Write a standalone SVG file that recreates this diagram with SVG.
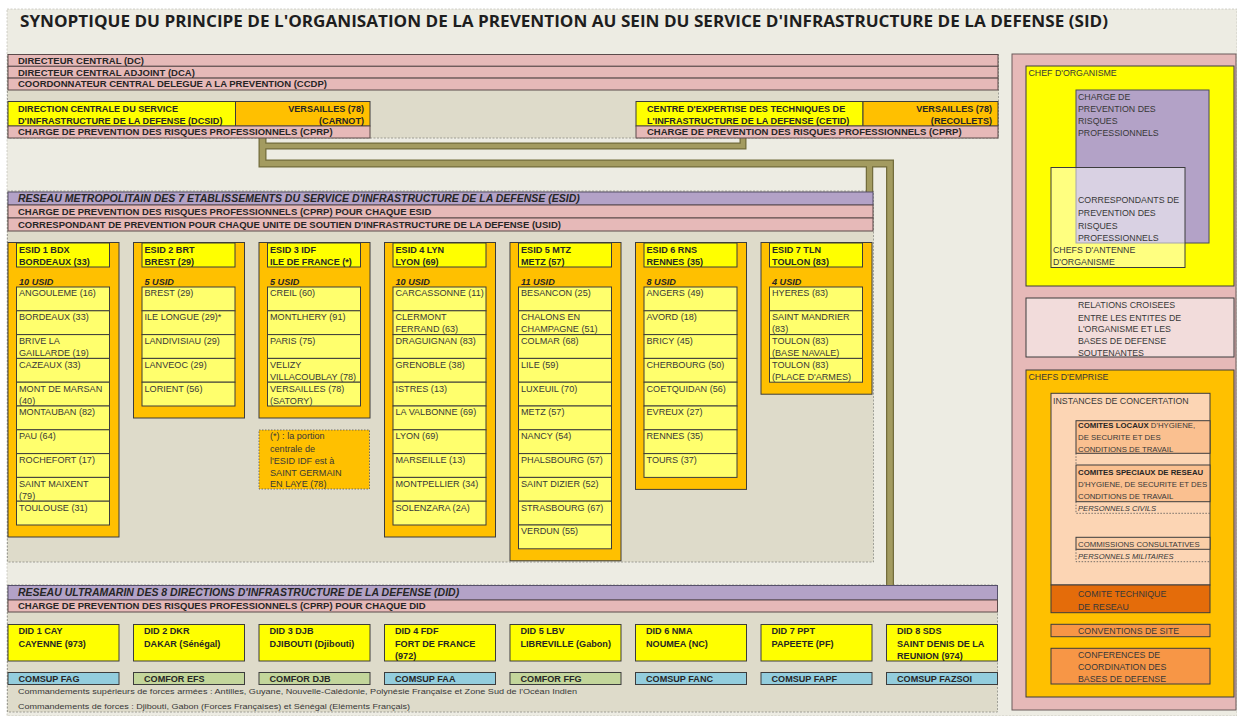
<svg xmlns="http://www.w3.org/2000/svg" width="1237" height="716" viewBox="0 0 1237 716">
<defs>
<style>
text{font-family:'Liberation Sans',Arial,sans-serif;fill:#383838;font-size:9.1px}
.b{font-weight:bold;fill:#262626}
.bi{font-weight:bold;font-style:italic;fill:#262626}
.h{font-size:10.5px}
.d{font-size:9.5px}
.s{font-size:7.8px}
.it{font-style:italic;font-size:7.6px}
.r{font-size:8.8px}
.fn{font-size:7.8px}
.end{text-anchor:end}
.ttl{font-family:'Open Sans','Liberation Sans',sans-serif;font-size:16px;font-weight:bold;fill:#1e1e1e}
.cont{fill:#dedbca;stroke:#8e8e86;stroke-width:0.8;stroke-dasharray:2 1.5}
.pk{fill:#e6b9b8;stroke:#5b4b4b;stroke-width:1}
.pu{fill:#b3a2c7;stroke:#56506a;stroke-width:1}
.y{fill:#ffff00;stroke:#3c3c3c;stroke-width:1}
.o{fill:#ffc000;stroke:#3c3c3c;stroke-width:1}
.rw{fill:#ffff6d;stroke:#3c3c3c;stroke-width:1}
.bl{fill:#93cddd;stroke:#3c3c3c;stroke-width:1}
.gr{fill:#c3d69b;stroke:#3c3c3c;stroke-width:1}
.bx{stroke:#3c3c3c;stroke-width:1}
.dot{fill:none;stroke:#555;stroke-width:0.8;stroke-dasharray:1.5 1.5}
.cd{fill:none;stroke:#736c3c}
.cl{fill:none;stroke:#a39b60}
.olb{fill:#9a9258;stroke:#6f6a3c;stroke-width:1}
</style>
</defs>

<rect x="0" y="0" width="1237" height="716" fill="#ffffff"/>
<rect x="7" y="9" width="1230" height="707" fill="#edece3" stroke="#b5b5ad" stroke-width="0.6" stroke-dasharray="2 1.5"/>

<text class="ttl" x="20" y="27" textLength="1088" lengthAdjust="spacingAndGlyphs">SYNOPTIQUE DU PRINCIPE DE L'ORGANISATION DE LA PREVENTION AU SEIN DU SERVICE D'INFRASTRUCTURE DE LA DEFENSE (SID)</text>

<!-- containers -->
<rect class="cont" x="7.5" y="54.5" width="991" height="83.5"/>
<rect class="cont" x="7.5" y="191" width="866" height="371"/>
<rect class="cont" x="7.5" y="585" width="990" height="127"/>

<!-- connectors -->
<g id="connectors">
<path class="cd" stroke-width="8" d="M262.5,138 V163.5 H890 V585"/>
<path class="cd" stroke-width="7" d="M262.5,146 H743 V138"/>
<path class="cd" stroke-width="7.5" d="M869.5,163.5 V192"/>
<path class="cl" stroke-width="5.5" d="M262.5,138 V163.5 H890 V585"/>
<path class="cl" stroke-width="4.5" d="M262.5,146 H743 V138"/>
<path class="cl" stroke-width="5" d="M869.5,163.5 V192"/>
<rect class="olb" x="1052" y="286" width="23" height="12"/>
<rect class="olb" x="1185.5" y="286" width="23.5" height="12"/>
<rect class="olb" x="1052" y="357" width="23" height="13"/>
<rect class="olb" x="1185.5" y="357" width="23.5" height="13"/>
</g>

<!-- direction -->
<g id="direction">
<rect class="pk" x="8" y="54.5" width="990" height="11.8"/>
<rect class="pk" x="8" y="66.3" width="990" height="11.8"/>
<rect class="pk" x="8" y="78.1" width="990" height="11.9"/>
<text class="b d" x="18" y="63.8">DIRECTEUR CENTRAL (DC)</text>
<text class="b d" x="18" y="75.6">DIRECTEUR CENTRAL ADJOINT (DCA)</text>
<text class="b d" x="18" y="87.4">COORDONNATEUR CENTRAL DELEGUE A LA PREVENTION (CCDP)</text>
</g>

<g id="dcsid">
<rect class="y" x="8" y="101.5" width="227.5" height="24.5"/>
<rect class="o" x="235.5" y="101.5" width="134.5" height="24.5"/>
<rect class="pk" x="8" y="126" width="362" height="12"/>
<text class="b" x="18" y="111.5">DIRECTION CENTRALE DU SERVICE</text>
<text class="b" x="18" y="123.5">D'INFRASTRUCTURE DE LA DEFENSE (DCSID)</text>
<text class="b end" x="364" y="111.5">VERSAILLES (78)</text>
<text class="b end" x="364" y="123.5">(CARNOT)</text>
<text class="b d" x="18" y="135.4">CHARGE DE PREVENTION DES RISQUES PROFESSIONNELS (CPRP)</text>
</g>

<g id="cetid">
<rect class="y" x="636" y="101.5" width="227" height="24.5"/>
<rect class="o" x="863" y="101.5" width="135" height="24.5"/>
<rect class="pk" x="636" y="126" width="362" height="12"/>
<text class="b" x="647" y="111.5">CENTRE D'EXPERTISE DES TECHNIQUES DE</text>
<text class="b" x="647" y="123.5">L'INFRASTRUCTURE DE LA DEFENSE (CETID)</text>
<text class="b end" x="992" y="111.5">VERSAILLES (78)</text>
<text class="b end" x="992" y="123.5">(RECOLLETS)</text>
<text class="b d" x="647" y="135.4">CHARGE DE PREVENTION DES RISQUES PROFESSIONNELS (CPRP)</text>
</g>

<!-- ESID network header -->
<g id="reseau-metropolitain">
<rect class="pu" x="8" y="192" width="865" height="13"/>
<rect class="pk" x="8" y="205" width="865" height="13"/>
<rect class="pk" x="8" y="218" width="865" height="13"/>
<text class="bi h" x="18" y="202.3">RESEAU METROPOLITAIN DES 7 ETABLISSEMENTS DU SERVICE D'INFRASTRUCTURE DE LA DEFENSE (ESID)</text>
<text class="b d" x="18" y="214.9">CHARGE DE PREVENTION DES RISQUES PROFESSIONNELS (CPRP) POUR CHAQUE ESID</text>
<text class="b d" x="18" y="227.9">CORRESPONDANT DE PREVENTION POUR CHAQUE UNITE DE SOUTIEN D'INFRASTRUCTURE DE LA DEFENSE (USID)</text>
</g>

<!-- ESID 1 -->
<g id="esid1">
<rect class="o" x="8" y="242.5" width="111" height="294.5"/>
<rect class="y" x="16.5" y="243" width="93" height="24"/>
<text class="b" x="19" y="252.5">ESID 1 BDX</text>
<text class="b" x="19" y="264.5">BORDEAUX (33)</text>
<text class="bi" x="19" y="284.5">10 USID</text>
<rect class="rw" x="16.5" y="287" width="93" height="23.8"/>
<rect class="rw" x="16.5" y="310.8" width="93" height="23.8"/>
<rect class="rw" x="16.5" y="334.6" width="93" height="23.8"/>
<rect class="rw" x="16.5" y="358.4" width="93" height="23.8"/>
<rect class="rw" x="16.5" y="382.2" width="93" height="23.8"/>
<rect class="rw" x="16.5" y="406" width="93" height="23.8"/>
<rect class="rw" x="16.5" y="429.8" width="93" height="23.8"/>
<rect class="rw" x="16.5" y="453.6" width="93" height="23.8"/>
<rect class="rw" x="16.5" y="477.4" width="93" height="23.8"/>
<rect class="rw" x="16.5" y="501.2" width="93" height="23.8"/>
<text x="19" y="296.3">ANGOULEME (16)</text>
<text x="19" y="320.1">BORDEAUX (33)</text>
<text x="19" y="343.9">BRIVE LA</text>
<text x="19" y="355.9">GAILLARDE (19)</text>
<text x="19" y="367.7">CAZEAUX (33)</text>
<text x="19" y="391.5">MONT DE MARSAN</text>
<text x="19" y="403.5">(40)</text>
<text x="19" y="415.3">MONTAUBAN (82)</text>
<text x="19" y="439.1">PAU (64)</text>
<text x="19" y="462.9">ROCHEFORT (17)</text>
<text x="19" y="486.7">SAINT MAIXENT</text>
<text x="19" y="498.7">(79)</text>
<text x="19" y="510.5">TOULOUSE (31)</text>
</g>

<!-- ESID 2 -->
<g id="esid2">
<rect class="o" x="133.5" y="242.5" width="111" height="175.5"/>
<rect class="y" x="142" y="243" width="93" height="24"/>
<text class="b" x="144.5" y="252.5">ESID 2 BRT</text>
<text class="b" x="144.5" y="264.5">BREST (29)</text>
<text class="bi" x="144.5" y="284.5">5 USID</text>
<rect class="rw" x="142" y="287" width="93" height="23.8"/>
<rect class="rw" x="142" y="310.8" width="93" height="23.8"/>
<rect class="rw" x="142" y="334.6" width="93" height="23.8"/>
<rect class="rw" x="142" y="358.4" width="93" height="23.8"/>
<rect class="rw" x="142" y="382.2" width="93" height="23.8"/>
<text x="144.5" y="296.3">BREST (29)</text>
<text x="144.5" y="320.1">ILE LONGUE (29)*</text>
<text x="144.5" y="343.9">LANDIVISIAU (29)</text>
<text x="144.5" y="367.7">LANVEOC (29)</text>
<text x="144.5" y="391.5">LORIENT (56)</text>
</g>

<!-- ESID 3 -->
<g id="esid3">
<rect class="o" x="259" y="242.5" width="111" height="175.5"/>
<rect class="y" x="267.5" y="243" width="93" height="24"/>
<text class="b" x="270" y="252.5">ESID 3 IDF</text>
<text class="b" x="270" y="264.5">ILE DE FRANCE (*)</text>
<text class="bi" x="270" y="284.5">5 USID</text>
<rect class="rw" x="267.5" y="287" width="93" height="23.8"/>
<rect class="rw" x="267.5" y="310.8" width="93" height="23.8"/>
<rect class="rw" x="267.5" y="334.6" width="93" height="23.8"/>
<rect class="rw" x="267.5" y="358.4" width="93" height="23.8"/>
<rect class="rw" x="267.5" y="382.2" width="93" height="23.8"/>
<text x="270" y="296.3">CREIL (60)</text>
<text x="270" y="320.1">MONTLHERY (91)</text>
<text x="270" y="343.9">PARIS (75)</text>
<text x="270" y="367.7">VELIZY</text>
<text x="270" y="379.7">VILLACOUBLAY (78)</text>
<text x="270" y="391.5">VERSAILLES (78)</text>
<text x="270" y="403.5">(SATORY)</text>
</g>

<g id="note-idf">
<rect x="259" y="430" width="110.5" height="59" fill="#ffc000" stroke="#555" stroke-width="0.8" stroke-dasharray="1.5 1.5"/>
<text x="270" y="439.3">(*) : la portion</text>
<text x="270" y="451.5">centrale de</text>
<text x="270" y="463.5">l'ESID IDF est à</text>
<text x="270" y="475.5">SAINT GERMAIN</text>
<text x="270" y="487.3">EN LAYE (78)</text>
</g>

<!-- ESID 4 -->
<g id="esid4">
<rect class="o" x="384.5" y="242.5" width="111" height="294.5"/>
<rect class="y" x="393" y="243" width="93" height="24"/>
<text class="b" x="395.5" y="252.5">ESID 4 LYN</text>
<text class="b" x="395.5" y="264.5">LYON (69)</text>
<text class="bi" x="395.5" y="284.5">10 USID</text>
<rect class="rw" x="393" y="287" width="93" height="23.8"/>
<rect class="rw" x="393" y="310.8" width="93" height="23.8"/>
<rect class="rw" x="393" y="334.6" width="93" height="23.8"/>
<rect class="rw" x="393" y="358.4" width="93" height="23.8"/>
<rect class="rw" x="393" y="382.2" width="93" height="23.8"/>
<rect class="rw" x="393" y="406" width="93" height="23.8"/>
<rect class="rw" x="393" y="429.8" width="93" height="23.8"/>
<rect class="rw" x="393" y="453.6" width="93" height="23.8"/>
<rect class="rw" x="393" y="477.4" width="93" height="23.8"/>
<rect class="rw" x="393" y="501.2" width="93" height="23.8"/>
<text x="395.5" y="296.3">CARCASSONNE (11)</text>
<text x="395.5" y="320.1">CLERMONT</text>
<text x="395.5" y="332.1">FERRAND (63)</text>
<text x="395.5" y="343.9">DRAGUIGNAN (83)</text>
<text x="395.5" y="367.7">GRENOBLE (38)</text>
<text x="395.5" y="391.5">ISTRES (13)</text>
<text x="395.5" y="415.3">LA VALBONNE (69)</text>
<text x="395.5" y="439.1">LYON (69)</text>
<text x="395.5" y="462.9">MARSEILLE (13)</text>
<text x="395.5" y="486.7">MONTPELLIER (34)</text>
<text x="395.5" y="510.5">SOLENZARA (2A)</text>
</g>

<!-- ESID 5 -->
<g id="esid5">
<rect class="o" x="510" y="242.5" width="111" height="318.3"/>
<rect class="y" x="518.5" y="243" width="93" height="24"/>
<text class="b" x="521" y="252.5">ESID 5 MTZ</text>
<text class="b" x="521" y="264.5">METZ (57)</text>
<text class="bi" x="521" y="284.5">11 USID</text>
<rect class="rw" x="518.5" y="287" width="93" height="23.8"/>
<rect class="rw" x="518.5" y="310.8" width="93" height="23.8"/>
<rect class="rw" x="518.5" y="334.6" width="93" height="23.8"/>
<rect class="rw" x="518.5" y="358.4" width="93" height="23.8"/>
<rect class="rw" x="518.5" y="382.2" width="93" height="23.8"/>
<rect class="rw" x="518.5" y="406" width="93" height="23.8"/>
<rect class="rw" x="518.5" y="429.8" width="93" height="23.8"/>
<rect class="rw" x="518.5" y="453.6" width="93" height="23.8"/>
<rect class="rw" x="518.5" y="477.4" width="93" height="23.8"/>
<rect class="rw" x="518.5" y="501.2" width="93" height="23.8"/>
<rect class="rw" x="518.5" y="525" width="93" height="23.8"/>
<text x="521" y="296.3">BESANCON (25)</text>
<text x="521" y="320.1">CHALONS EN</text>
<text x="521" y="332.1">CHAMPAGNE (51)</text>
<text x="521" y="343.9">COLMAR (68)</text>
<text x="521" y="367.7">LILE (59)</text>
<text x="521" y="391.5">LUXEUIL (70)</text>
<text x="521" y="415.3">METZ (57)</text>
<text x="521" y="439.1">NANCY (54)</text>
<text x="521" y="462.9">PHALSBOURG (57)</text>
<text x="521" y="486.7">SAINT DIZIER (52)</text>
<text x="521" y="510.5">STRASBOURG (67)</text>
<text x="521" y="534.3">VERDUN (55)</text>
</g>

<!-- ESID 6 -->
<g id="esid6">
<rect class="o" x="635.5" y="242.5" width="111" height="246.9"/>
<rect class="y" x="644" y="243" width="93" height="24"/>
<text class="b" x="646.5" y="252.5">ESID 6 RNS</text>
<text class="b" x="646.5" y="264.5">RENNES (35)</text>
<text class="bi" x="646.5" y="284.5">8 USID</text>
<rect class="rw" x="644" y="287" width="93" height="23.8"/>
<rect class="rw" x="644" y="310.8" width="93" height="23.8"/>
<rect class="rw" x="644" y="334.6" width="93" height="23.8"/>
<rect class="rw" x="644" y="358.4" width="93" height="23.8"/>
<rect class="rw" x="644" y="382.2" width="93" height="23.8"/>
<rect class="rw" x="644" y="406" width="93" height="23.8"/>
<rect class="rw" x="644" y="429.8" width="93" height="23.8"/>
<rect class="rw" x="644" y="453.6" width="93" height="23.8"/>
<text x="646.5" y="296.3">ANGERS (49)</text>
<text x="646.5" y="320.1">AVORD (18)</text>
<text x="646.5" y="343.9">BRICY (45)</text>
<text x="646.5" y="367.7">CHERBOURG (50)</text>
<text x="646.5" y="391.5">COETQUIDAN (56)</text>
<text x="646.5" y="415.3">EVREUX (27)</text>
<text x="646.5" y="439.1">RENNES (35)</text>
<text x="646.5" y="462.9">TOURS (37)</text>
</g>

<!-- ESID 7 -->
<g id="esid7">
<rect class="o" x="761" y="242.5" width="111" height="151.7"/>
<rect class="y" x="769.5" y="243" width="93" height="24"/>
<text class="b" x="772" y="252.5">ESID 7 TLN</text>
<text class="b" x="772" y="264.5">TOULON (83)</text>
<text class="bi" x="772" y="284.5">4 USID</text>
<rect class="rw" x="769.5" y="287" width="93" height="23.8"/>
<rect class="rw" x="769.5" y="310.8" width="93" height="23.8"/>
<rect class="rw" x="769.5" y="334.6" width="93" height="23.8"/>
<rect class="rw" x="769.5" y="358.4" width="93" height="23.8"/>
<text x="772" y="296.3">HYERES (83)</text>
<text x="772" y="320.1">SAINT MANDRIER</text>
<text x="772" y="332.1">(83)</text>
<text x="772" y="343.9">TOULON (83)</text>
<text x="772" y="355.9">(BASE NAVALE)</text>
<text x="772" y="367.7">TOULON (83)</text>
<text x="772" y="379.7">(PLACE D'ARMES)</text>
</g>

<!-- DID network -->
<g id="reseau-ultramarin">
<rect class="pu" x="8" y="585.5" width="989.5" height="14.5"/>
<rect class="pk" x="8" y="600" width="989.5" height="12"/>
<text class="bi h" x="18" y="596.3">RESEAU ULTRAMARIN DES 8 DIRECTIONS D'INFRASTRUCTURE DE LA DEFENSE (DID)</text>
<text class="b d" x="18" y="609.4">CHARGE DE PREVENTION DES RISQUES PROFESSIONNELS (CPRP) POUR CHAQUE DID</text>
</g>

<g id="did1">
<rect class="y" x="8" y="624.5" width="111" height="36.5"/>
<text class="b" x="18.5" y="634">DID 1 CAY</text>
<text class="b" x="18.5" y="646.5">CAYENNE (973)</text>
</g>
<g id="did2">
<rect class="y" x="133.5" y="624.5" width="111" height="36.5"/>
<text class="b" x="144" y="634">DID 2 DKR</text>
<text class="b" x="144" y="646.5">DAKAR (Sénégal)</text>
</g>
<g id="did3">
<rect class="y" x="259" y="624.5" width="111" height="36.5"/>
<text class="b" x="269.5" y="634">DID 3 DJB</text>
<text class="b" x="269.5" y="646.5">DJIBOUTI (Djibouti)</text>
</g>
<g id="did4">
<rect class="y" x="384.5" y="624.5" width="111" height="36.5"/>
<text class="b" x="395" y="634">DID 4 FDF</text>
<text class="b" x="395" y="646.5">FORT DE FRANCE</text>
<text class="b" x="395" y="659">(972)</text>
</g>
<g id="did5">
<rect class="y" x="510" y="624.5" width="111" height="36.5"/>
<text class="b" x="520.5" y="634">DID 5 LBV</text>
<text class="b" x="520.5" y="646.5">LIBREVILLE (Gabon)</text>
</g>
<g id="did6">
<rect class="y" x="635.5" y="624.5" width="111" height="36.5"/>
<text class="b" x="646" y="634">DID 6 NMA</text>
<text class="b" x="646" y="646.5">NOUMEA (NC)</text>
</g>
<g id="did7">
<rect class="y" x="761" y="624.5" width="111" height="36.5"/>
<text class="b" x="771.5" y="634">DID 7 PPT</text>
<text class="b" x="771.5" y="646.5">PAPEETE (PF)</text>
</g>
<g id="did8">
<rect class="y" x="886.5" y="624.5" width="111" height="36.5"/>
<text class="b" x="897" y="634">DID 8 SDS</text>
<text class="b" x="897" y="646.5">SAINT DENIS DE LA</text>
<text class="b" x="897" y="659">REUNION (974)</text>
</g>

<g id="commandements">
<rect class="bl" x="8" y="672.5" width="111" height="12"/>
<rect class="gr" x="133.5" y="672.5" width="111" height="12"/>
<rect class="gr" x="259" y="672.5" width="111" height="12"/>
<rect class="bl" x="384.5" y="672.5" width="111" height="12"/>
<rect class="gr" x="510" y="672.5" width="111" height="12"/>
<rect class="bl" x="635.5" y="672.5" width="111" height="12"/>
<rect class="bl" x="761" y="672.5" width="111" height="12"/>
<rect class="bl" x="886.5" y="672.5" width="111" height="12"/>
<text class="b" x="18.5" y="681.8">COMSUP FAG</text>
<text class="b" x="144" y="681.8">COMFOR EFS</text>
<text class="b" x="269.5" y="681.8">COMFOR DJB</text>
<text class="b" x="395" y="681.8">COMSUP FAA</text>
<text class="b" x="520.5" y="681.8">COMFOR FFG</text>
<text class="b" x="646" y="681.8">COMSUP FANC</text>
<text class="b" x="771.5" y="681.8">COMSUP FAPF</text>
<text class="b" x="897" y="681.8">COMSUP FAZSOI</text>
<text class="fn" x="18" y="694.3" textLength="559" lengthAdjust="spacingAndGlyphs">Commandements supérieurs de forces armées : Antilles, Guyane, Nouvelle-Calédonie, Polynésie Française et Zone Sud de l'Océan Indien</text>
<text class="fn" x="18" y="709.3" textLength="392" lengthAdjust="spacingAndGlyphs">Commandements de forces : Djibouti, Gabon (Forces Françaises) et Sénégal (Eléments Français)</text>
</g>

<!-- right panel -->
<g id="panel">
<rect x="1012" y="54" width="224" height="656" fill="#e6b9b8" stroke="#6b5b5b" stroke-width="1"/>
</g>
<g id="chef-organisme">
<rect class="bx" x="1026" y="66" width="208" height="220" fill="#ffff00"/>
<text class="r" x="1028.5" y="76">CHEF D'ORGANISME</text>
</g>
<g id="cprp-organisme">
<rect x="1076" y="90" width="133" height="153" fill="#b3a2c7" stroke="#4a4a5a" stroke-width="1"/>
<text class="r" x="1078" y="100">CHARGE DE</text>
<text class="r" x="1078" y="112">PREVENTION DES</text>
<text class="r" x="1078" y="124">RISQUES</text>
<text class="r" x="1078" y="136">PROFESSIONNELS</text>
</g>
<g id="chefs-antenne">
<rect class="bx" x="1051" y="167.5" width="134" height="100" fill="#ffffff" fill-opacity="0.5"/>
<text class="r" x="1078" y="203.3">CORRESPONDANTS DE</text>
<text class="r" x="1078" y="216">PREVENTION DES</text>
<text class="r" x="1078" y="228.5">RISQUES</text>
<text class="r" x="1078" y="241">PROFESSIONNELS</text>
<text class="r" x="1053" y="253.3">CHEFS D'ANTENNE</text>
<text class="r" x="1053" y="265">D'ORGANISME</text>
</g>
<g id="relations">
<rect class="bx" x="1026" y="298" width="208" height="59" fill="#f2dcdb"/>
<text class="r" x="1078" y="308.3">RELATIONS CROISEES</text>
<text class="r" x="1078" y="320.5">ENTRE LES ENTITES DE</text>
<text class="r" x="1078" y="332.3">L'ORGANISME ET LES</text>
<text class="r" x="1078" y="344.3">BASES DE DEFENSE</text>
<text class="r" x="1078" y="356">SOUTENANTES</text>
</g>
<g id="chefs-emprise">
<rect class="bx" x="1026" y="370" width="208" height="327" fill="#ffc000"/>
<text class="r" x="1028.5" y="380">CHEFS D'EMPRISE</text>
</g>
<g id="instances">
<rect class="bx" x="1051" y="393.3" width="159" height="191.7" fill="#fcd5b4"/>
<text class="r" x="1053" y="404">INSTANCES DE CONCERTATION</text>
</g>
<g id="comites-locaux">
<rect class="bx" x="1076" y="420.7" width="134" height="32.6" fill="#fac090"/>
<text class="s" x="1078" y="428"><tspan class="b">COMITES LOCAUX</tspan> D'HYGIENE,</text>
<text class="s" x="1078" y="439.8">DE SECURITE ET DES</text>
<text class="s" x="1078" y="451.6">CONDITIONS DE TRAVAIL</text>
<path class="dot" d="M1076,453.3 V465"/>
</g>
<g id="comites-speciaux">
<rect class="bx" x="1076" y="465" width="134" height="36.7" fill="#fac090"/>
<text class="s b" x="1078" y="475">COMITES SPECIAUX DE RESEAU</text>
<text class="s" x="1078" y="487">D'HYGIENE, DE SECURITE ET DES</text>
<text class="s" x="1078" y="499">CONDITIONS DE TRAVAIL</text>
<path class="dot" d="M1076,501.7 V513.3 H1210"/>
<text class="it" x="1078" y="511">PERSONNELS CIVILS</text>
</g>
<g id="commissions">
<rect class="bx" x="1076" y="537.3" width="134" height="12" fill="#fbcea7"/>
<text class="s" x="1078" y="546.5">COMMISSIONS CONSULTATIVES</text>
<path class="dot" d="M1076,549.3 V561.7 H1210"/>
<text class="it" x="1078" y="558.8">PERSONNELS MILITAIRES</text>
</g>
<g id="comite-technique">
<rect class="bx" x="1051" y="585" width="159" height="27.7" fill="#e46c0a"/>
<text class="r" x="1078" y="597.3">COMITE TECHNIQUE</text>
<text class="r" x="1078" y="610">DE RESEAU</text>
</g>
<g id="conventions">
<rect class="bx" x="1051" y="624.3" width="159" height="12.4" fill="#f79646"/>
<text class="r" x="1078" y="633.8">CONVENTIONS DE SITE</text>
</g>
<g id="conferences">
<rect class="bx" x="1051" y="648.3" width="159" height="35.7" fill="#f79646"/>
<text class="r" x="1078" y="658.3">CONFERENCES DE</text>
<text class="r" x="1078" y="670">COORDINATION DES</text>
<text class="r" x="1078" y="682">BASES DE DEFENSE</text>
</g>
</svg>
